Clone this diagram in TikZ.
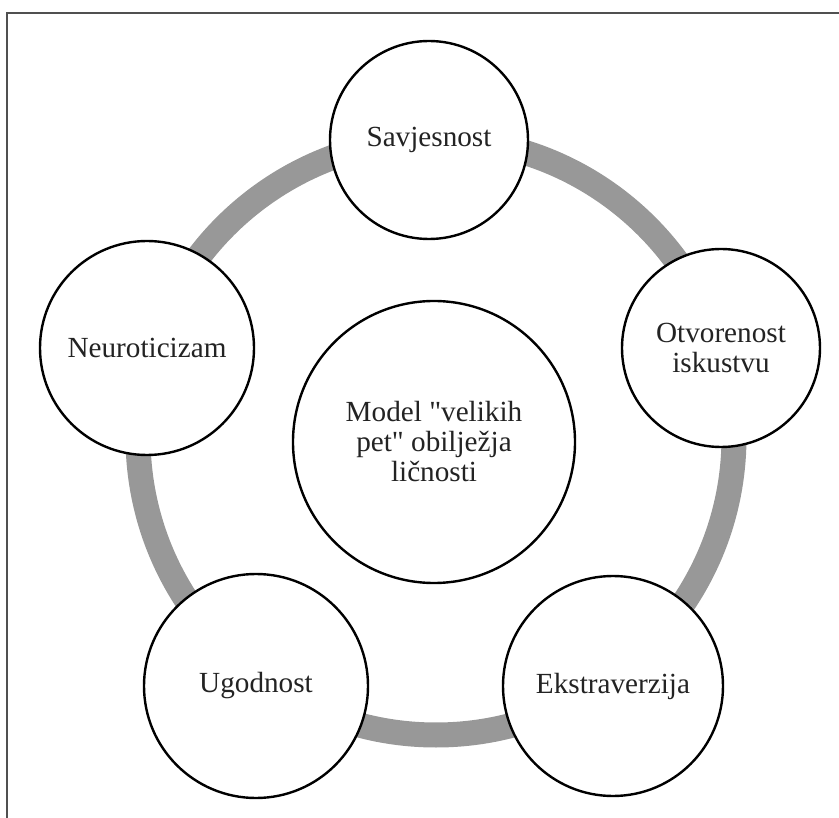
\documentclass[tikz,border=0pt]{standalone}
\usepackage{fontspec}
\setmainfont{Liberation Serif}
\definecolor{ringgray}{RGB}{152,152,152}
\definecolor{inkgray}{RGB}{35,35,35}
\definecolor{framegray}{RGB}{80,80,80}
\begin{document}
\begin{tikzpicture}[x=1pt,y=-1pt,
  trait/.style={circle, draw=black, line width=2.4pt, fill=white,
    minimum size=#1, inner sep=0pt, align=center, text=inkgray,
    font=\fontsize{29.2}{30}\selectfont},
  framestroke/.style={framegray, line width=2pt},
]
\useasboundingbox (0,0) rectangle (839,818);

% page frame: top and left rules only
\coordinate (frameTL) at (7,12.7);
\coordinate (frameTR) at (839,12.7);
\coordinate (frameBL) at (7,818);
\draw[framestroke] (frameBL) -- (frameTL) -- (frameTR);

% grey ring that links the five traits
\coordinate (hub) at (436,437);
\draw[ringgray, line width=25pt] (hub) circle[radius=298];

% the five traits
\node[trait=198pt] (savj)   at (429,140) {Savjesnost};
\node[trait=198pt] (otv)    at (721,348) {Otvorenost\\iskustvu};
\node[trait=214pt] (neuro)  at (147,348) {Neuroticizam};
\node[trait=224pt] (ugod)   at (256,686) {Ugodnost};
\node[trait=220pt] (ekstra) at (613,686) {Ekstraverzija};

% central model
\node[trait=282pt] (model) at (434,442)
  {Model \textquotedbl velikih\\pet\textquotedbl\ obilježja\\ličnosti};
\end{tikzpicture}
\end{document}
